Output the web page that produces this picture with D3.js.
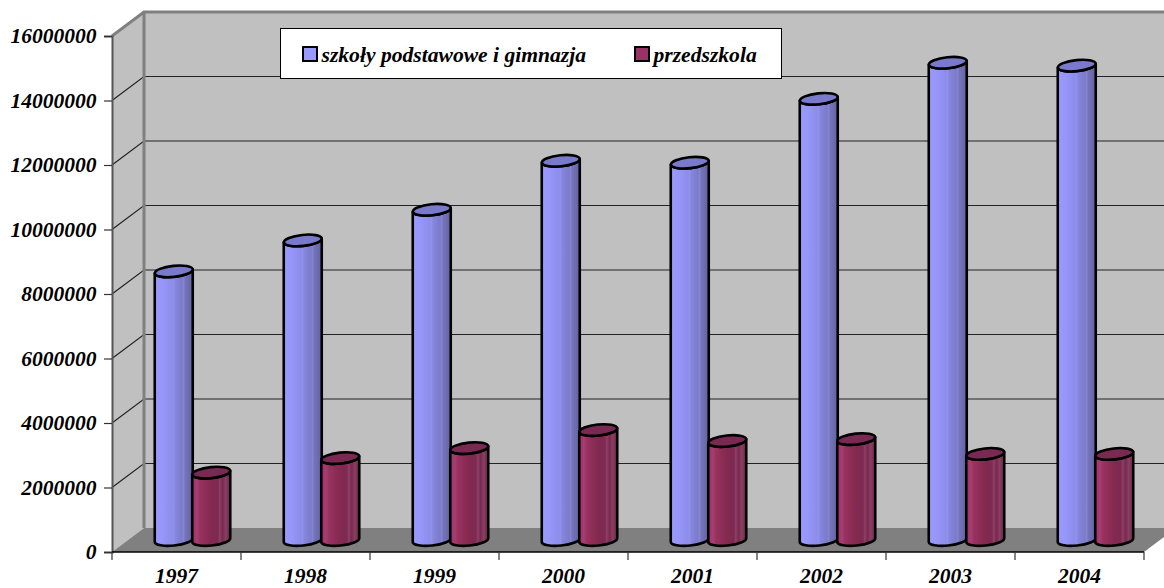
<!DOCTYPE html>
<html>
<head>
<meta charset="utf-8">
<script src="https://cdn.jsdelivr.net/npm/d3@7"></script>
<style>
  html, body { margin: 0; padding: 0; background: #fff; }
  svg { display: block; }
  text { font-family: "Liberation Serif", serif; font-weight: bold; font-style: italic; fill: #000; }
</style>
</head>
<body>
<div id="chart"></div>
<script>
// values
var years = ["1997", "1998", "1999", "2000", "2001", "2002", "2003", "2004"];
var seriesNames = ["szkoły podstawowe i gimnazja", "przedszkola"];
var szkoly = [8330000, 9290000, 10240000, 11760000, 11700000, 13680000, 14800000, 14710000];
var przedszkola = [2090000, 2540000, 2850000, 3410000, 3070000, 3130000, 2670000, 2670000];
var yTicks = [0, 2000000, 4000000, 6000000, 8000000, 10000000, 12000000, 14000000, 16000000];

var width = 1164, height = 588;
var plot = {left: 112, right: 1144, top: 36, bottom: 552};
// 3d depth of the box
var depthX = 32, depthY = 24;

var svg = d3.select("#chart").append("svg")
    .attr("width", width)
    .attr("height", height);

var x = d3.scaleBand().domain(years).range([plot.left, plot.right]);
var y = d3.scaleLinear().domain([0, 16000000]).range([plot.bottom, plot.top]);
// two columns touching, centred in each category
var xInner = d3.scaleBand().domain(seriesNames).range([-37.5, 37.5]);

// gradients with the banded look of the columns
var defs = svg.append("defs");
function addGradient(id, stops) {
  var g = defs.append("linearGradient").attr("id", id);
  stops.forEach(function(s) {
    g.append("stop").attr("offset", s[0]).attr("stop-color", s[1]);
  });
}
addGradient("blueSide", [
  [0, "#9999ff"], [0.2, "#9797fa"], [0.45, "#8c8cea"], [0.5, "#9292ee"], [0.53, "#8686de"],
  [0.72, "#7b7bc8"], [0.76, "#8585d2"], [0.8, "#7474bc"], [1, "#63639f"]
]);
addGradient("purpleSide", [
  [0, "#993366"], [0.12, "#a83d72"], [0.2, "#98325f"], [0.5, "#83294f"],
  [0.68, "#7d2a52"], [0.72, "#8f3f66"], [0.8, "#78294f"], [0.88, "#8a3f63"], [1, "#6a2446"]
]);

// walls and floor
var walls = svg.append("g");
walls.append("rect")
    .attr("x", plot.left + depthX)
    .attr("y", plot.top - depthY)
    .attr("width", width - plot.left - depthX)
    .attr("height", plot.bottom - plot.top)
    .attr("fill", "#c0c0c0");
walls.append("path")
    .attr("d", d3.line()([
      [plot.left, plot.top], [plot.left + depthX, plot.top - depthY],
      [plot.left + depthX, plot.bottom - depthY], [plot.left, plot.bottom]
    ]) + "Z")
    .attr("fill", "#c0c0c0");
walls.append("path")
    .attr("d", d3.line()([
      [plot.left, plot.bottom], [plot.left + depthX, plot.bottom - depthY],
      [plot.right + depthX, plot.bottom - depthY], [plot.right, plot.bottom]
    ]) + "Z")
    .attr("fill", "#808080");

// grid lines along side wall and back wall
walls.selectAll(".grid")
  .data(yTicks.slice(1, -1))
  .enter()
  .append("path")
    .attr("class", "grid")
    .attr("d", function(d) {
      return d3.line()([
        [plot.left, y(d)], [plot.left + depthX, y(d) - depthY], [width, y(d) - depthY]
      ]);
    })
    .attr("fill", "none")
    .attr("stroke", "#222")
    .attr("stroke-width", 1.2);

// box edges
walls.append("path")
    .attr("d", d3.line()([
      [plot.left, plot.top], [plot.left + depthX, plot.top - depthY], [width, plot.top - depthY]
    ]))
    .attr("fill", "none").attr("stroke", "#808080").attr("stroke-width", 3);
walls.append("line")
    .attr("x1", plot.left + depthX).attr("x2", plot.left + depthX)
    .attr("y1", plot.top - depthY).attr("y2", plot.bottom - depthY)
    .attr("stroke", "#808080").attr("stroke-width", 3);

// axes
var yAxis = svg.append("g")
    .attr("transform", "translate(" + plot.left + ",0)")
    .call(d3.axisLeft(y).tickValues(yTicks).tickFormat(d3.format("d")).tickSize(8).tickPadding(7.5));
yAxis.select(".domain").attr("stroke", "#555").attr("stroke-width", 2);
yAxis.selectAll("line").attr("stroke", "#333").attr("stroke-width", 1.2);
yAxis.selectAll("text").style("font-size", "21.5px").attr("fill", "#000");

var xAxis = svg.append("g")
    .attr("transform", "translate(0," + plot.bottom + ")")
    .call(d3.axisBottom(x).tickSize(0).tickPadding(16));
xAxis.select(".domain").remove();
xAxis.selectAll("text").style("font-size", "21.5px").attr("fill", "#000");
svg.append("line")
    .attr("x1", plot.left).attr("x2", plot.right)
    .attr("y1", plot.bottom).attr("y2", plot.bottom)
    .attr("stroke", "#000").attr("stroke-width", 1.5);
svg.selectAll(".xTick")
  .data(years.concat("end"))
  .enter()
  .append("line")
    .attr("class", "xTick")
    .attr("x1", function(d, i) { return plot.left + i * x.step(); })
    .attr("x2", function(d, i) { return plot.left + i * x.step(); })
    .attr("y1", plot.bottom)
    .attr("y2", plot.bottom + 8)
    .attr("stroke", "#333")
    .attr("stroke-width", 1.2);

// columns stand half way into the depth of the box
var rx = 19, ry = 5.5, tilt = -6, lean = 2;
function sidePath(cx, yTop, yBase) {
  return "M" + (cx - rx) + "," + (yTop + lean) +
    "L" + (cx - rx) + "," + (yBase + lean) +
    "A" + rx + "," + ry + " " + tilt + " 0 0 " + (cx + rx) + "," + (yBase - lean) +
    "L" + (cx + rx) + "," + (yTop - lean) +
    "A" + rx + "," + ry + " " + tilt + " 0 1 " + (cx - rx) + "," + (yTop + lean) + "Z";
}
function drawColumns(values, name, sideFill, topFill) {
  var cols = svg.selectAll(".col-" + seriesNames.indexOf(name))
    .data(values)
    .enter()
    .append("g")
      .attr("class", "col-" + seriesNames.indexOf(name))
      .attr("transform", function(d, i) {
        var cx = x(years[i]) + x.bandwidth() / 2 + depthX / 2 + xInner(name) + xInner.bandwidth() / 2;
        return "translate(" + cx + "," + (y(d) - depthY / 2) + ")";
      });
  cols.append("path")
      .attr("d", function(d) { return sidePath(0, 0, y(0) - y(d)); })
      .attr("fill", sideFill)
      .attr("stroke", "#000")
      .attr("stroke-width", 2.6)
      .attr("stroke-linejoin", "round");
  cols.append("ellipse")
      .attr("rx", rx)
      .attr("ry", ry)
      .attr("transform", "rotate(" + tilt + ")")
      .attr("fill", topFill)
      .attr("stroke", "#000")
      .attr("stroke-width", 2.6);
}
drawColumns(szkoly, seriesNames[0], "url(#blueSide)", "#7a7acc");
drawColumns(przedszkola, seriesNames[1], "url(#purpleSide)", "#7a2952");

// legend
var legend = svg.append("g");
legend.append("rect")
    .attr("x", 280.5).attr("y", 28.5)
    .attr("width", 501).attr("height", 50)
    .attr("fill", "#fff").attr("stroke", "#000").attr("stroke-width", 1);
var legendColors = ["#9999ff", "#993366"];
var legendX = d3.scaleOrdinal().domain(seriesNames).range([303, 635]);
var items = legend.selectAll(".item")
  .data(seriesNames)
  .enter()
  .append("g")
    .attr("class", "item")
    .attr("transform", function(d) { return "translate(" + legendX(d) + ",47)"; });
items.append("rect")
    .attr("width", 14).attr("height", 14)
    .attr("fill", function(d, i) { return legendColors[i]; })
    .attr("stroke", "#000").attr("stroke-width", 2);
items.append("text")
    .attr("x", 18.5).attr("y", 15)
    .style("font-size", "21.6px")
    .text(function(d) { return d; });
</script>
</body>
</html>
